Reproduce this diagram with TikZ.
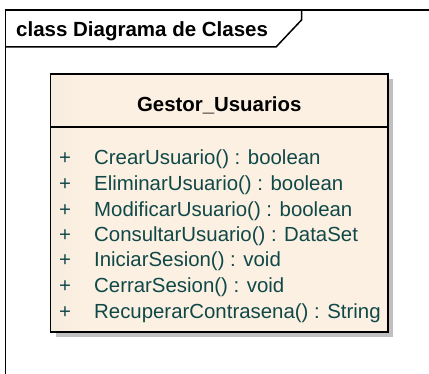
\documentclass[tikz,border=0pt]{standalone}
\usepackage{fontspec}
\setmainfont{Liberation Sans}
\usepackage{tikz}
\usetikzlibrary{shadows,positioning,calc}

\definecolor{clsleft}{RGB}{226,218,203}
\definecolor{clsright}{RGB}{251,240,226}
\definecolor{optext}{RGB}{16,72,72}
\definecolor{shadowgray}{RGB}{192,192,192}
\pgfdeclarehorizontalshading{classfill}{100bp}{color(0bp)=(clsleft); color(30bp)=(clsright); color(100bp)=(clsright)}

\tikzset{
    frameline/.style={line width=1.5pt, black},
    classbox/.style={draw=black, line width=1.5pt, shading=classfill, inner sep=0pt,
        drop shadow={shadow xshift=5pt, shadow yshift=-5pt, fill=shadowgray, opacity=1}},
    optxt/.style={anchor=base west, inner sep=0pt, text=optext, font=\fontsize{20.4}{24}\selectfont},
}

\begin{document}
\begin{tikzpicture}[x=1pt, y=-1pt]
        \useasboundingbox (0,0) rectangle (429,374);

        % Frame and tab
        \draw[frameline] (5.5,374) -- (5.5,10) -- (429,10);
        \draw[frameline] (5.5,47) -- (276,47) -- (301.5,20) -- (301.5,10);
        \node[anchor=base west, inner sep=0pt, font=\fontsize{20.5}{24}\selectfont\bfseries] (frametitle) at (16,36.5) {class Diagrama de Clases};

        % Class box
        \node[classbox, minimum width=337.5pt, minimum height=258pt] (gestor) at (219.25,203) {};
        \draw[line width=1.5pt] (gestor.west |- 0,127) -- (gestor.east |- 0,127);
        \node[anchor=base, inner sep=0pt, font=\fontsize{20.4}{24}\selectfont\bfseries] (gestorname) at (219.25,112) {Gestor\_Usuarios};

        % Operations
        \node[optxt] (p1) at (59,165) {+};
        \node[optxt] (op1) at (94,165) {CrearUsuario() : boolean};
        \node[optxt] (p2) at (59,191) {+};
        \node[optxt] (op2) at (94,191) {EliminarUsuario() : boolean};
        \node[optxt] (p3) at (59,217) {+};
        \node[optxt] (op3) at (94,217) {ModificarUsuario() : boolean};
        \node[optxt] (p4) at (59,242) {+};
        \node[optxt] (op4) at (94,242) {ConsultarUsuario() : DataSet};
        \node[optxt] (p5) at (59,267) {+};
        \node[optxt] (op5) at (94,267) {IniciarSesion() : void};
        \node[optxt] (p6) at (59,293) {+};
        \node[optxt] (op6) at (94,293) {CerrarSesion() : void};
        \node[optxt] (p7) at (59,319) {+};
        \node[optxt] (op7) at (94,319) {RecuperarContrasena() : String};
    \end{tikzpicture}
\end{document}
